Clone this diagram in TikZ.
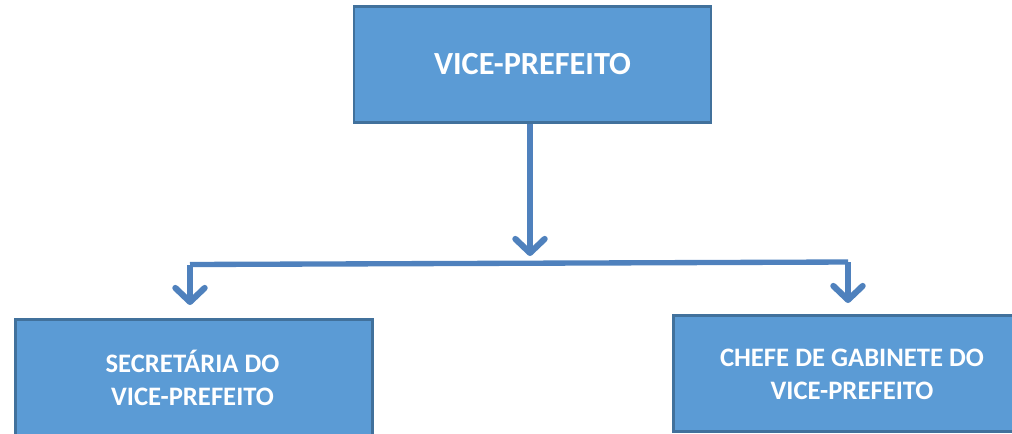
\documentclass[tikz,border=0pt]{standalone}
\usepackage{fontspec}
\setmainfont{Carlito}
\usetikzlibrary{arrows.meta}
\definecolor{boxfill}{HTML}{5B9BD5}
\definecolor{boxline}{HTML}{41719C}
\definecolor{conn}{HTML}{4F81BD}
\tikzset{
  orgbox/.style={draw=boxline, line width=2pt, fill=boxfill, text=white,
    font=\bfseries\fontsize{20}{28}\selectfont, align=center, inner sep=0pt},
  boxtext/.style={font=\bfseries\fontsize{20}{25}\selectfont, text=white, align=center},
  conline/.style={draw=conn, line width=4pt},
  conarrow/.style={conline, -{Straight Barb[length=10.5pt,width=22pt,line width=4.6pt,round]}},
}
\begin{document}
\begin{tikzpicture}[x=0.75pt,y=-0.75pt]
\useasboundingbox (0,0) rectangle (1012,433);
\clip (0,0) rectangle (1012,433);
\node[orgbox, minimum width=357*0.75pt, minimum height=116*0.75pt, font=\bfseries\fontsize{24.2}{28}\selectfont] (vp) at (532.5,64.5) {VICE-PREFEITO};
\node[orgbox, minimum width=357*0.75pt, minimum height=130*0.75pt, anchor=north west] (sec) at (14,318) {};
\node[boxtext] (sect) at (192.5,378) {SECRETÁRIA DO\\VICE-PREFEITO};
\node[orgbox, minimum width=360*0.75pt, minimum height=116*0.75pt, anchor=north west] (chf) at (672,314) {};
\node[boxtext] (chft) at (852,374.5) {CHEFE DE GABINETE DO\\VICE-PREFEITO};
\coordinate (mid) at (530,263);
\coordinate (lc) at (190,264.5);
\coordinate (rc) at (848,262);
\coordinate (ltip) at (190,305);
\coordinate (rtip) at (848,303);
\coordinate (vtip) at (530,256);
\draw[conarrow] (vp.south -| mid) -- (vtip);
\draw[conline, line join=miter] (lc) -- (rc);
\draw[conarrow] (lc) -- (ltip);
\draw[conarrow] (rc) -- (rtip);
\end{tikzpicture}
\end{document}
